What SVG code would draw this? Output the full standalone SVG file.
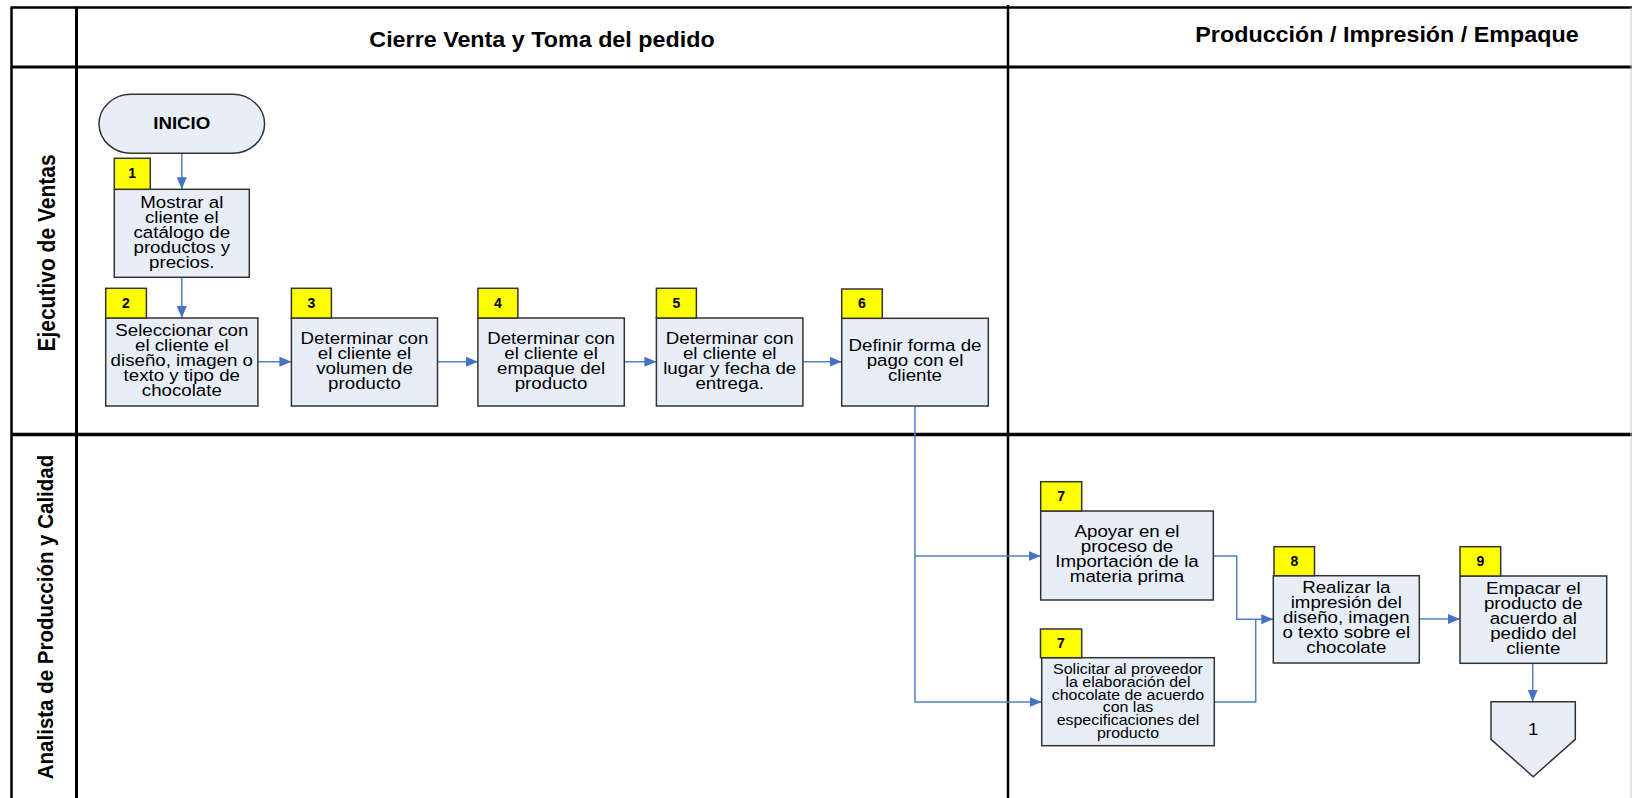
<svg xmlns="http://www.w3.org/2000/svg" width="1632" height="798" viewBox="0 0 1632 798">
<style>
.box{fill:#E8EEF8;stroke:#333;stroke-width:1.5}
.tag{fill:#FFFF00;stroke:#333;stroke-width:1.5}
.t{font-family:"Liberation Sans",Arial,sans-serif;font-size:17px;fill:#000;text-anchor:middle}
.s{font-size:14.5px}
.n{font-family:"Liberation Sans",Arial,sans-serif;font-size:14px;font-weight:bold;fill:#000;text-anchor:middle}
.h{font-family:"Liberation Sans",Arial,sans-serif;font-size:22px;font-weight:bold;fill:#000;text-anchor:middle}
.lb{font-family:"Liberation Sans",Arial,sans-serif;font-weight:bold;fill:#000;text-anchor:middle}
.ln{stroke:#000;fill:none}
.c{fill:none;stroke:#4F81BD;stroke-width:1.5;marker-end:url(#ah)}
</style>
<defs>
<marker id="ah" markerUnits="userSpaceOnUse" markerWidth="13" markerHeight="11" refX="12" refY="5" orient="auto">
<path d="M0,0 L12,5 L0,10 z" fill="#4472C4"/>
</marker>
</defs>
<rect width="1632" height="798" fill="#fff"/>
<g id="lanes">
<line class="ln" x1="11" y1="7.5" x2="1632" y2="7.5" stroke-width="2.5"/>
<line class="ln" x1="11.5" y1="6.5" x2="11.5" y2="798" stroke-width="2.5"/>
<line class="ln" x1="76.5" y1="6.5" x2="76.5" y2="798" stroke-width="3"/>
<line class="ln" x1="11" y1="67" x2="1632" y2="67" stroke-width="3"/>
<line class="ln" x1="11" y1="434.5" x2="1632" y2="434.5" stroke-width="3.5"/>
<line class="ln" x1="1008" y1="5" x2="1008" y2="798" stroke-width="2.5"/>
<line x1="1631" y1="7.5" x2="1631" y2="798" stroke="#c8c8c8" stroke-width="1"/>
<text class="h" x="542" y="47" transform="matrix(1.06 0 0 1 -32.52 0)">Cierre Venta y Toma del pedido</text>
<text class="h" x="1387" y="42" transform="matrix(1.06 0 0 1 -83.22 0)">Producción / Impresión / Empaque</text>
<text class="lb" font-size="21" transform="translate(54.5,253) scale(1.1,1) rotate(-90)" x="0" y="0">Ejecutivo de Ventas</text>
<text class="lb" font-size="20.5" transform="translate(53,617) scale(1.1,1) rotate(-90)" x="0" y="0">Analista de Producción y Calidad</text>
</g>
<g id="connectors">
<path class="c" d="M181.8,153.3 V189.3"/>
<path class="c" d="M181.8,277.3 V318"/>
<path class="c" d="M257.9,361.7 H291.4"/>
<path class="c" d="M437.5,361.7 H477.9"/>
<path class="c" d="M624.3,361.7 H656.4"/>
<path class="c" d="M802.9,361.7 H841.7"/>
<path class="c" d="M915,406 V556 H1040.7"/>
<path class="c" d="M915,556 V702 H1041.7"/>
<path class="c" d="M1213.3,556 H1236.7 V619.3 H1273.3"/>
<path fill="none" stroke="#4F81BD" stroke-width="1.5" d="M1214.3,702 H1255.7 V619.3"/>
<path class="c" d="M1419.3,619 H1460"/>
<path class="c" d="M1532.7,663.3 V701.7"/>
</g>
<g id="start">
<rect x="99" y="94.3" width="165.6" height="59" rx="32" ry="29.5" class="box"/>
<text class="lb" font-size="17" x="181.8" y="129.3" transform="matrix(1.1 0 0 1 -18.18 0)">INICIO</text>
</g>
<g id="n1">
<rect class="box" x="114.3" y="189.3" width="135" height="88"/>
<rect class="tag" x="114.3" y="158.3" width="36" height="31"/>
<text class="n" x="132.2" y="177.6">1</text>
<text class="t" transform="matrix(1.1 0 0 1 -18.18 0)"><tspan x="181.8" y="207.8">Mostrar al</tspan><tspan x="181.8" y="222.8">cliente el</tspan><tspan x="181.8" y="237.8">catálogo de</tspan><tspan x="181.8" y="252.8">productos y</tspan><tspan x="181.8" y="267.8">precios.</tspan></text>
</g>
<g id="n2">
<rect class="box" x="105.7" y="318" width="152.2" height="88"/>
<rect class="tag" x="105.7" y="288.3" width="40.7" height="29.7"/>
<text class="n" x="126" y="307.6">2</text>
<text class="t" transform="matrix(1.1 0 0 1 -18.18 0)"><tspan x="181.8" y="336.5">Seleccionar con</tspan><tspan x="181.8" y="351.5">el cliente el</tspan><tspan x="181.8" y="366.5">diseño, imagen o</tspan><tspan x="181.8" y="381.5">texto y tipo de</tspan><tspan x="181.8" y="396.5">chocolate</tspan></text>
</g>
<g id="n3">
<rect class="box" x="291.4" y="318" width="146.1" height="88"/>
<rect class="tag" x="291.4" y="288.3" width="40" height="29.7"/>
<text class="n" x="311.4" y="307.6">3</text>
<text class="t" transform="matrix(1.1 0 0 1 -36.45 0)"><tspan x="364.5" y="344">Determinar con</tspan><tspan x="364.5" y="359">el cliente el</tspan><tspan x="364.5" y="374">volumen de</tspan><tspan x="364.5" y="389">producto</tspan></text>
</g>
<g id="n4">
<rect class="box" x="477.9" y="318" width="146.4" height="88"/>
<rect class="tag" x="477.9" y="288.3" width="40" height="29.7"/>
<text class="n" x="497.9" y="307.6">4</text>
<text class="t" transform="matrix(1.1 0 0 1 -55.11 0)"><tspan x="551.1" y="344">Determinar con</tspan><tspan x="551.1" y="359">el cliente el</tspan><tspan x="551.1" y="374">empaque del</tspan><tspan x="551.1" y="389">producto</tspan></text>
</g>
<g id="n5">
<rect class="box" x="656.4" y="318" width="146.5" height="88"/>
<rect class="tag" x="656.4" y="288.3" width="40" height="29.7"/>
<text class="n" x="676.4" y="307.6">5</text>
<text class="t" transform="matrix(1.1 0 0 1 -72.97 0)"><tspan x="729.7" y="344">Determinar con</tspan><tspan x="729.7" y="359">el cliente el</tspan><tspan x="729.7" y="374">lugar y fecha de</tspan><tspan x="729.7" y="389">entrega.</tspan></text>
</g>
<g id="n6">
<rect class="box" x="841.7" y="318.3" width="146.6" height="87.7"/>
<rect class="tag" x="841.7" y="289" width="40.6" height="29.3"/>
<text class="n" x="862" y="308.3">6</text>
<text class="t" transform="matrix(1.1 0 0 1 -91.5 0)"><tspan x="915" y="351">Definir forma de</tspan><tspan x="915" y="366">pago con el</tspan><tspan x="915" y="381">cliente</tspan></text>
</g>
<g id="n7a">
<rect class="box" x="1040.7" y="511" width="172.6" height="89"/>
<rect class="tag" x="1040.7" y="481.7" width="41" height="29.3"/>
<text class="n" x="1061.2" y="501">7</text>
<text class="t" transform="matrix(1.1 0 0 1 -112.7 0)"><tspan x="1127" y="537.5">Apoyar en el</tspan><tspan x="1127" y="552.5">proceso de</tspan><tspan x="1127" y="567.5">Importación de la</tspan><tspan x="1127" y="582.5">materia prima</tspan></text>
</g>
<g id="n7b">
<rect class="box" x="1041.7" y="657.7" width="172.6" height="88"/>
<rect class="tag" x="1040.5" y="629" width="41.2" height="28.7"/>
<text class="n" x="1061" y="648.3">7</text>
<text class="t s" transform="matrix(1.1 0 0 1 -112.8 0)"><tspan x="1128" y="674.3">Solicitar al proveedor</tspan><tspan x="1128" y="687">la elaboración del</tspan><tspan x="1128" y="699.7">chocolate de acuerdo</tspan><tspan x="1128" y="712.4">con las</tspan><tspan x="1128" y="725.1">especificaciones del</tspan><tspan x="1128" y="737.8">producto</tspan></text>
</g>
<g id="n8">
<rect class="box" x="1273.3" y="575.7" width="146" height="87.3"/>
<rect class="tag" x="1274" y="546.7" width="40.5" height="29"/>
<text class="n" x="1294.3" y="566">8</text>
<text class="t" transform="matrix(1.1 0 0 1 -134.63 0)"><tspan x="1346.3" y="593.5">Realizar la</tspan><tspan x="1346.3" y="608.5">impresión del</tspan><tspan x="1346.3" y="623.5">diseño, imagen</tspan><tspan x="1346.3" y="638.5">o texto sobre el</tspan><tspan x="1346.3" y="653.5">chocolate</tspan></text>
</g>
<g id="n9">
<rect class="box" x="1460" y="576" width="146.7" height="87.3"/>
<rect class="tag" x="1460" y="546.7" width="40.7" height="29.3"/>
<text class="n" x="1480.3" y="566">9</text>
<text class="t" transform="matrix(1.1 0 0 1 -153.33 0)"><tspan x="1533.3" y="594">Empacar el</tspan><tspan x="1533.3" y="609">producto de</tspan><tspan x="1533.3" y="624">acuerdo al</tspan><tspan x="1533.3" y="639">pedido del</tspan><tspan x="1533.3" y="654">cliente</tspan></text>
</g>
<g id="offpage">
<polygon class="box" points="1491,701.7 1575.3,701.7 1575.3,739.3 1533.2,776.7 1491,739.3"/>
<text class="t" x="1533.2" y="735.5" transform="matrix(1.1 0 0 1 -153.32 0)">1</text>
</g>
</svg>
